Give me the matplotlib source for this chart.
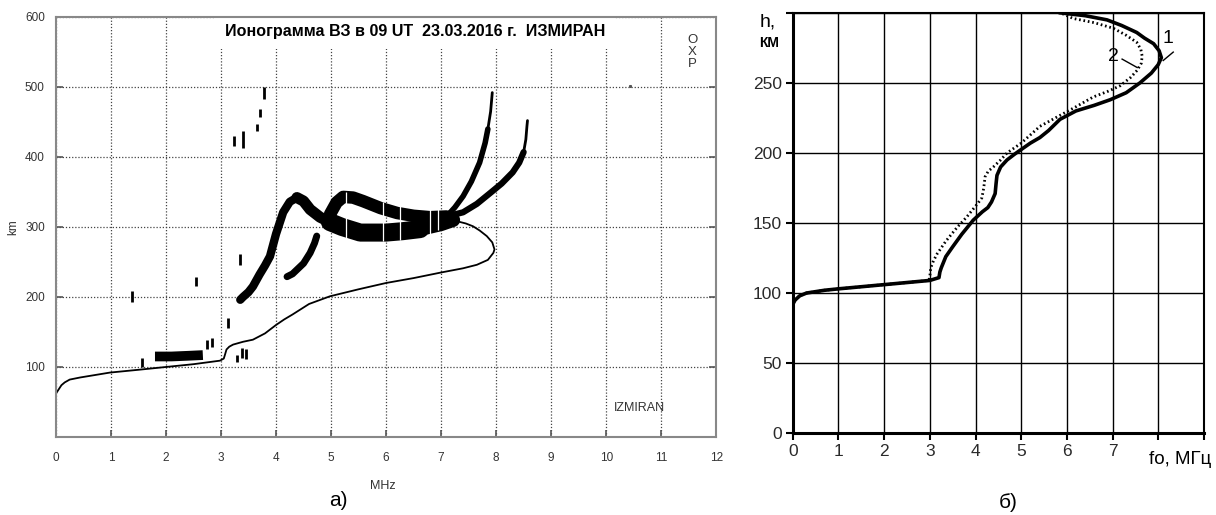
import matplotlib
matplotlib.use('Agg')
import matplotlib.pyplot as plt
from matplotlib import ticker

plt.rcParams['font.family'] = ['Liberation Sans', 'DejaVu Sans']

# ---- ionogram (left) ----
# true-height profile drawn over the ionogram
prof_f = [0.0, 0.05, 0.1, 0.16, 0.25, 0.44, 0.98, 1.5, 2.0, 2.5, 2.98, 3.05, 3.07, 3.1, 3.15,
          3.22, 3.4, 3.58, 3.8, 4.0, 4.15, 4.3, 4.6, 4.98, 5.5, 6.0, 6.5, 7.0, 7.4, 7.65,
          7.85, 7.95, 7.97, 7.93, 7.83, 7.7, 7.58, 7.45, 7.35, 7.2]
prof_h = [62, 68, 74, 78, 82, 85, 92, 96, 100, 104, 109, 112, 117, 125, 129,
          132, 136, 139, 148, 160, 168, 175, 190, 201, 211, 220, 227, 235, 241, 246,
          253, 263, 268, 278, 287, 295, 301, 305, 307, 310]

# o-mode F trace
o_rise_f = [3.35, 3.4, 3.5, 3.58, 3.7, 3.8, 3.89, 4.0, 4.13, 4.25, 4.38]
o_rise_h = [196, 200, 207, 215, 232, 245, 258, 290, 321, 336, 342]
o_peak_f = [4.38, 4.5, 4.62, 4.8, 4.98]
o_peak_h = [342, 337, 325, 314, 307]
o_main_f = [4.98, 5.2, 5.53, 6.0, 6.3, 6.62]
o_main_h = [307, 300, 292, 292, 294, 297]
o_end_f = [6.62, 7.0, 7.22]
o_end_h = [297, 304, 310]
o_top_f = [7.1, 7.25, 7.4, 7.55, 7.7, 7.8, 7.85, 7.9, 7.92, 7.93]
o_top_h = [315, 328, 344, 365, 392, 420, 440, 465, 483, 492]

# x-mode F trace
x_low_f = [4.2, 4.3, 4.38, 4.5, 4.62, 4.7, 4.74]
x_low_h = [229, 233, 239, 248, 263, 277, 287]
x_main_f = [4.98, 5.1, 5.22, 5.4, 5.58, 5.9, 6.2, 6.5, 6.8, 7.1]
x_main_h = [318, 335, 343, 342, 337, 327, 320, 316, 314, 315]
x_top_f = [7.1, 7.4, 7.65, 7.9, 8.1, 8.3, 8.42, 8.5, 8.54, 8.56, 8.57]
x_top_h = [315, 321, 333, 349, 362, 378, 392, 407, 425, 444, 452]

# gaps between sounding pulses in the F traces
gap_f = [5.28, 5.95, 6.25, 6.79, 6.95]
gap_lo = [282, 280, 282, 290, 295]
gap_hi = [350, 335, 330, 325, 325]

# sporadic E echo
es_f = [1.8, 2.1, 2.4, 2.67]
es_h = [115, 115, 116, 117]

# isolated short echoes
dash_f = [1.38, 1.56, 2.55, 2.75, 2.84, 3.13, 3.29, 3.38, 3.45, 3.35,
          3.24, 3.4, 3.65, 3.7, 3.79]
dash_lo = [193, 100, 215, 125, 128, 156, 107, 113, 112, 245,
           416, 413, 437, 457, 483]
dash_hi = [208, 113, 229, 139, 142, 170, 117, 127, 125, 262,
           430, 437, 447, 468, 500]

# ---- N(h) profiles (right) ----
p1_f = [0.0, 0.05, 0.15, 0.3, 0.5, 0.7, 1.0, 1.5, 2.0, 2.5, 3.0, 3.2, 3.22, 3.25, 3.35,
        3.5, 3.7, 3.95, 4.15, 4.27, 4.35, 4.43, 4.45, 4.47, 4.55, 4.69, 4.85, 4.98, 5.2,
        5.41, 5.6, 5.85, 6.2, 6.6, 6.95, 7.3, 7.6, 7.85, 8.0, 8.07, 8.02, 7.9, 7.7, 7.53,
        7.2, 6.88, 6.4, 5.86]
p1_h = [92, 95, 98, 100, 101, 102, 103, 104.5, 106, 107.5, 109, 111, 115, 118, 126,
        133, 142, 152, 158, 161, 165, 171, 178, 184, 190, 195, 199, 202, 207,
        211, 216, 224, 230, 234, 238, 243, 250, 257, 263, 268, 273, 278, 282, 286,
        291, 295, 298, 300]
p2_f = [0.0, 0.05, 0.15, 0.3, 0.5, 0.7, 1.0, 1.5, 2.0, 2.5, 2.98, 3.0, 3.02, 3.08, 3.16,
        3.35, 3.6, 3.8, 3.95, 4.05, 4.14, 4.18, 4.21, 4.28, 4.39, 4.55, 4.69, 5.0, 5.41,
        5.86, 6.2, 6.58, 6.9, 7.17, 7.4, 7.54, 7.63, 7.65, 7.62, 7.53, 7.3, 7.02, 6.6,
        6.14, 5.86]
p2_h = [92, 95, 98, 100, 101, 102, 103, 104.5, 106, 107.5, 109, 112, 118, 123, 128,
        137, 147, 154, 160, 164, 168, 175, 183, 187, 190, 195, 200, 207, 219,
        227, 233, 240, 244, 248, 254, 259, 264, 269, 274, 279, 284, 289, 293,
        296, 300]

fig = plt.figure(figsize=(12.16, 5.15), dpi=100)

ax = fig.add_axes([0.046, 0.1515, 0.543, 0.8155])
ax.set_xlim(0, 12)
ax.set_ylim(0, 600)
ax.set_xticks(range(13))
ax.set_yticks([100, 200, 300, 400, 500, 600])
ax.grid(True, color='#444444', linestyle=(0, (1, 1.5)), linewidth=0.9)
ax.set_axisbelow(True)
for s in ax.spines.values():
    s.set_color('#888888')
    s.set_linewidth(1.5)
    s.set_zorder(6)
ax.tick_params(direction='in', length=5, width=1.2, color='#555555', labelcolor='#333333',
               labelsize=8.5, top=False, right=True, pad=11)
ax.tick_params(axis='y', pad=8)

ax.plot(prof_f, prof_h, color='black', lw=1.3, zorder=3)
trace_kw = dict(color='black', solid_capstyle='round', solid_joinstyle='round', zorder=4)
ax.plot(o_rise_f, o_rise_h, lw=6, **trace_kw)
ax.plot(o_peak_f, o_peak_h, lw=8, **trace_kw)
ax.plot(o_main_f, o_main_h, lw=13, **trace_kw)
ax.plot(o_end_f, o_end_h, lw=10, **trace_kw)
ax.plot(o_top_f[:-3], o_top_h[:-3], lw=4, **trace_kw)
ax.plot(o_top_f[-4:], o_top_h[-4:], lw=2, **trace_kw)
ax.plot(x_low_f, x_low_h, lw=5, **trace_kw)
ax.plot(x_main_f, x_main_h, lw=9, **trace_kw)
ax.plot(x_top_f[:-3], x_top_h[:-3], lw=4.5, **trace_kw)
ax.plot(x_top_f[-4:], x_top_h[-4:], lw=2, **trace_kw)
ax.vlines(gap_f, gap_lo, gap_hi, color='white', lw=0.9, zorder=5)
ax.plot(es_f, es_h, lw=7, color='black', solid_capstyle='butt', zorder=4)
ax.vlines(dash_f, dash_lo, dash_hi, color='black', lw=2, zorder=4)
ax.plot([10.44], [501], marker='s', ms=1.2, color='#555555', ls='none')

ax.text(6.52, 579, 'Ионограмма ВЗ в 09 UT  23.03.2016 г.  ИЗМИРАН', ha='center', va='center',
        fontsize=11.6, fontweight='bold', zorder=5,
        bbox=dict(boxstyle='square,pad=0.6', facecolor='white', edgecolor='none'))
ax.text(11.57, 550, 'O\nX\nP', ha='center', va='center', fontsize=9.5, color='#333333',
        linespacing=0.95)
ax.text(10.6, 42, 'IZMIRAN', ha='center', va='center', fontsize=9, color='#333333')
ax.set_ylabel('km', fontsize=8.5, color='#333333', labelpad=4)
fig.text(383 / 1216, 1 - 486 / 515, 'MHz', ha='center', va='center', fontsize=9, color='#333333')
fig.text(338 / 1216, 1 - 501 / 515, 'а)', ha='center', va='center', fontsize=15)

# ---- right panel ----
ax2 = fig.add_axes([0.652, 0.159, 0.338, 0.816])
ax2.set_xlim(0, 9)
ax2.set_ylim(0, 300)
ax2.set_xticks(range(10))
ax2.set_yticks(range(0, 301, 50))
ax2.xaxis.set_major_formatter(ticker.FuncFormatter(lambda v, p: '%d' % v if v <= 7 else ''))
ax2.yaxis.set_major_formatter(ticker.FuncFormatter(lambda v, p: '%d' % v if v <= 250 else ''))
ax2.grid(True, color='black', linewidth=1)
ax2.set_axisbelow(True)
for s in ax2.spines.values():
    s.set_linewidth(1.5)
ax2.spines['left'].set_linewidth(2.2)
ax2.spines['bottom'].set_linewidth(2.2)
ax2.tick_params(direction='out', length=5, width=1.5, labelsize=12.5, labelcolor='#2a2a2a', pad=3)

ax2.plot(p1_f, p1_h, color='black', lw=2.6, zorder=3)
ax2.plot(p2_f, p2_h, color='black', lw=2, linestyle=(0, (0.6, 1.0)), zorder=3)

ax2.text(8.22, 282, '1', ha='center', va='center', fontsize=14)
ax2.plot([8.33, 8.11], [272, 266], color='black', lw=1)
ax2.text(7.02, 269, '2', ha='center', va='center', fontsize=14)
ax2.plot([7.21, 7.54], [267, 261], color='black', lw=1)

fig.text(768 / 1216, 1 - 22 / 515, 'h,', ha='center', va='center', fontsize=14)
fig.text(769 / 1216, 1 - 43 / 515, 'КМ', ha='center', va='center', fontsize=10, fontweight='bold')
fig.text(1180 / 1216, 1 - 460 / 515, 'fo, МГц', ha='center', va='center', fontsize=13.5)
fig.text(1008 / 1216, 1 - 503 / 515, 'б)', ha='center', va='center', fontsize=15)

fig.savefig('out.png', dpi=100)
